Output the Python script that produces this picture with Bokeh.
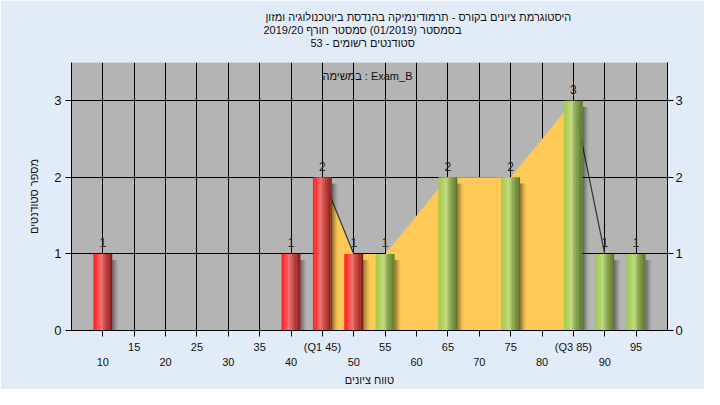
from bokeh.plotting import figure
from bokeh.models import ColumnDataSource, Range1d, LinearAxis, FixedTicker, Label, Title
from bokeh.transform import dodge
from bokeh.core.properties import value
from bokeh.embed import file_html
from bokeh.resources import INLINE

# ---------------- data ----------------
bins = [10, 40, 45, 50, 55, 65, 75, 85, 90, 95]
counts = [1, 1, 2, 1, 1, 2, 2, 3, 1, 1]
bar_kind = ["low", "low", "low", "low", "high", "high", "high", "high", "high", "high"]
q1 = 45
q3 = 85
x_ticks = [10, 15, 20, 25, 30, 35, 40, 45, 50, 55, 60, 65, 70, 75, 80, 85, 90, 95]
row1_ticks = [15, 25, 35, 45, 55, 65, 75, 85, 95]
row1_labels = ["15", "25", "35", "(Q1 45)", "55", "65", "75", "(Q3 85)", "95"]
row2_ticks = [10, 20, 30, 40, 50, 60, 70, 80, 90]
row2_labels = ["10", "20", "30", "40", "50", "60", "70", "80", "90"]
y_ticks = [0, 1, 2, 3]
title_lines = [
    "היסטוגרמת ציונים בקורס - תרמודינמיקה בהנדסת ביוטכנולוגיה ומזון",
    "בסמסטר  (01/2019)  סמסטר חורף 2019/20",
    "סטודנטים רשומים - 53",
]
caption = "במשימה : Exam_B"
x_title = "טווח ציונים"
y_title = "מספר סטודנטים"

FONT = "Liberation Sans"
TXT = "#111111"

# ---------------- figure ----------------
p = figure(width=704, height=389, x_range=Range1d(5, 100), y_range=Range1d(0, 3.5),
           output_backend="svg", toolbar_location=None,
           min_border_left=71, min_border_right=37, min_border_top=62, min_border_bottom=59,
           background_fill_color="#b4b4b4", border_fill_color="#e2ecf8",
           outline_line_color=None)

# titles (nearest to the frame first), with a small spacer next to the frame
p.add_layout(Title(text=" ", standoff=0, text_font=FONT, text_font_size="11px"), "above")
title_offsets = [194, 192, 239]
for line, off in reversed(list(zip(title_lines, title_offsets))):
    p.add_layout(Title(text=line, align="left", offset=off, standoff=-1,
                       text_font=FONT, text_font_size="11px", text_font_style="normal",
                       text_color=TXT), "above")

# grids
p.xgrid.ticker = FixedTicker(ticks=x_ticks)
p.ygrid.ticker = FixedTicker(ticks=[t for t in y_ticks if t > 0])
for g in (p.xgrid, p.ygrid):
    g.grid_line_color = "black"
    g.grid_line_width = 1
    g.grid_line_alpha = 1

# x axis row 1
ax1 = p.xaxis[0]
ax1.ticker = FixedTicker(ticks=x_ticks)
ov1 = {t: "" for t in x_ticks}
ov1.update({t: l for t, l in zip(row1_ticks, row1_labels)})
ax1.major_label_overrides = ov1
ax1.major_tick_out = 6
ax1.major_tick_in = 0
ax1.minor_tick_out = 0
ax1.minor_tick_in = 0
ax1.major_label_standoff = 4
ax1.axis_line_color = "black"
ax1.major_tick_line_color = "black"
ax1.major_label_text_font = FONT
ax1.major_label_text_font_size = "11px"
ax1.major_label_text_color = TXT

# x axis row 2
ax2 = LinearAxis(ticker=FixedTicker(ticks=row2_ticks),
                 major_label_overrides={t: l for t, l in zip(row2_ticks, row2_labels)},
                 major_tick_out=0, major_tick_in=0, minor_tick_out=0, minor_tick_in=0,
                 axis_line_color=None, major_tick_line_color=None,
                 major_label_standoff=2,
                 major_label_text_font=FONT, major_label_text_font_size="11px",
                 major_label_text_color=TXT,
                 axis_label=x_title, axis_label_standoff=5,
                 axis_label_text_font=FONT, axis_label_text_font_size="11px",
                 axis_label_text_font_style="normal", axis_label_text_color=TXT)
p.add_layout(ax2, "below")

# y axis left
ay = p.yaxis[0]
ay.ticker = FixedTicker(ticks=y_ticks)
ay.major_tick_out = 6
ay.major_tick_in = 0
ay.minor_tick_out = 0
ay.minor_tick_in = 0
ay.major_label_standoff = 4
ay.axis_line_color = "black"
ay.major_tick_line_color = "black"
ay.major_label_text_font = FONT
ay.major_label_text_font_size = "13px"
ay.major_label_text_color = TXT
ay.axis_label = y_title
ay.axis_label_standoff = 11
ay.axis_label_text_font = FONT
ay.axis_label_text_font_size = "11px"
ay.axis_label_text_font_style = "normal"
ay.axis_label_text_color = TXT

# y axis right
ayr = LinearAxis(ticker=FixedTicker(ticks=y_ticks), major_tick_out=6, major_tick_in=0,
                 minor_tick_out=0, minor_tick_in=0, major_label_standoff=2,
                 axis_line_color="black", major_tick_line_color="black",
                 major_label_text_font=FONT, major_label_text_font_size="13px",
                 major_label_text_color=TXT)
p.add_layout(ayr, "right")

# ---------------- interquartile area ----------------
iq_x = [b for b in bins if q1 <= b <= q3]
iq_y = [c for b, c in zip(bins, counts) if q1 <= b <= q3]
p.varea(x=iq_x, y1=[0] * len(iq_x), y2=iq_y, fill_color="#fdca57")

# descending polygon edges (dark)
sx0, sy0, sx1, sy1 = [], [], [], []
for i in range(len(bins) - 1):
    if counts[i + 1] < counts[i]:
        sx0.append(bins[i]); sy0.append(counts[i])
        sx1.append(bins[i + 1]); sy1.append(counts[i + 1])
p.segment(x0=sx0, y0=sy0, x1=sx1, y1=sy1, line_color="#333333", line_width=1.2)

# ---------------- bars ----------------
BAR_W = 3.0
src = ColumnDataSource(dict(x=bins, top=counts, kind=bar_kind,
                            label=[str(c) for c in counts],
                            stop=[c - 0.08 for c in counts]))

# soft shadow to the right
sh_alpha = [0.42, 0.32, 0.23, 0.15, 0.08, 0.03]
sh_w = 1.0 / len(sh_alpha)
for i, a in enumerate(sh_alpha):
    off = BAR_W / 2 + sh_w * (i + 0.5)
    p.vbar(x=dodge("x", off, range=p.x_range), width=sh_w * 1.05, top="stop", bottom=0,
           source=src, fill_color="black", fill_alpha=a, line_color=None)

red_stops = [(0.0, (255, 30, 30)), (0.18, (255, 52, 52)), (0.42, (240, 116, 116)),
             (0.62, (200, 70, 70)), (0.85, (160, 40, 40)), (1.0, (122, 22, 22))]
green_stops = [(0.0, (160, 202, 70)), (0.18, (172, 210, 92)), (0.42, (194, 220, 140)),
               (0.62, (140, 170, 80)), (0.85, (108, 138, 58)), (1.0, (84, 112, 40))]


def interp(stops, t):
    for (t0, c0), (t1, c1) in zip(stops[:-1], stops[1:]):
        if t0 <= t <= t1:
            f = (t - t0) / (t1 - t0) if t1 > t0 else 0
            return "#%02x%02x%02x" % tuple(int(round(a + (b - a) * f)) for a, b in zip(c0, c1))
    return "#%02x%02x%02x" % stops[-1][1]


N = 14
sw = BAR_W / N
for i in range(N):
    t = (i + 0.5) / N
    col = "c%d" % i
    src.data[col] = [interp(red_stops, t) if k == "low" else interp(green_stops, t) for k in bar_kind]
    off = -BAR_W / 2 + sw * (i + 0.5)
    p.vbar(x=dodge("x", off, range=p.x_range), width=sw * 1.2 if i < N - 1 else sw,
           top="top", bottom=0, source=src, fill_color=col, line_color=None)

# value labels
p.text(x="x", y="top", text="label", source=src, y_offset=-11, text_align="center",
       text_baseline="alphabetic", text_font=value(FONT), text_font_size="12px",
       text_color="#222222")

# ---------------- caption ----------------
p.add_layout(Label(x=296, y=255, x_units="screen", y_units="screen", text=caption,
                   text_align="center", text_baseline="middle", text_font=FONT,
                   text_font_size="11px", text_color=TXT))

open("out.html", "w").write(file_html(p, INLINE))
